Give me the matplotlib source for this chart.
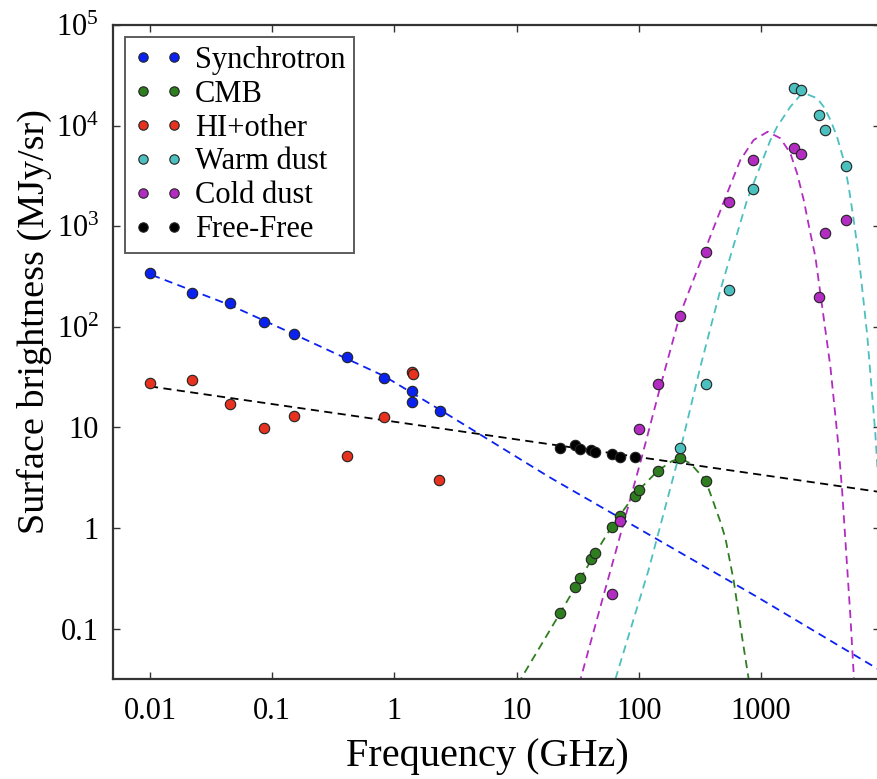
import numpy as np
import matplotlib
matplotlib.use("Agg")
import matplotlib.pyplot as plt
from matplotlib.ticker import FixedLocator, FixedFormatter, NullLocator

plt.rcParams['font.family'] = ['Liberation Serif', 'DejaVu Serif']
plt.rcParams['mathtext.fontset'] = 'custom'
plt.rcParams['mathtext.rm'] = 'Liberation Serif'
plt.rcParams['mathtext.it'] = 'Liberation Serif:italic'

# measured points (GHz, MJy/sr)
sync_f = [0.01, 0.022, 0.045, 0.085, 0.15, 0.41, 0.82, 1.4, 1.4, 2.37]
sync_s = [345, 218, 172, 111, 85, 50, 30.8, 23, 17.9, 14.7]

cmb_f = [22.8, 29.9, 32.9, 40.9, 44.1, 60.9, 69.8, 93.7, 100, 143, 216, 353]
cmb_s = [0.144, 0.26, 0.32, 0.49, 0.565, 1.02, 1.31, 2.1, 2.37, 3.7, 4.93, 2.93]

hi_f = [0.01, 0.022, 0.045, 0.085, 0.15, 0.41, 0.82, 1.4, 1.42, 2.32]
hi_s = [27.8, 29.4, 17.2, 9.8, 12.9, 5.2, 12.6, 35.8, 34.0, 3.0]

warm_f = [216, 353, 545, 856, 1875, 2143, 2986, 3320, 4970]
warm_s = [6.3, 26.8, 234, 2360, 23800, 22600, 12700, 9100, 3965]

cold_f = [60.9, 69.8, 100, 143, 216, 353, 545, 856, 1875, 2143, 2986, 3320, 4970]
cold_s = [0.22, 1.17, 9.7, 27.2, 128, 558, 1730, 4550, 5990, 5220, 199, 855, 1161]

ff_f = [22.8, 29.9, 32.9, 40.9, 44.1, 60.9, 69.8, 93.7]
ff_s = [6.2, 6.7, 6.1, 5.96, 5.7, 5.44, 5.1, 5.1]

# fitted curves
sync_fit_f = [0.0104, 0.0449, 0.150, 0.824, 2.38, 18.3, 929, 8970]
sync_fit_s = [327, 165, 84.7, 32.4, 14.9, 3.24, 0.207, 0.040]

ff_fit_f = [0.01, 9500]
ff_fit_s = [25.6, 2.28]

cmb_fit_f = [10.2, 22.8, 30.3, 44, 62.3, 96.9, 143, 185, 216, 264, 351, 398, 465, 512, 598, 700, 793, 810]
cmb_fit_s = [0.028, 0.144, 0.26, 0.56, 1.11, 2.3, 3.7, 4.6, 4.95, 4.4, 3.0, 1.97, 1.16, 0.79, 0.30, 0.083, 0.0316, 0.026]

cold_fit_f = [32.5, 48.5, 66.4, 106, 150, 219, 340, 528, 678, 871, 1135, 1442, 1740,
              1974, 2238, 2537, 2786, 3700, 4325, 4610, 5395, 5800]
cold_fit_s = [0.028, 0.165, 0.65, 5.1, 25.4, 136, 538, 2120, 4550, 7190, 8700, 7480, 5300,
              3360, 1820, 850, 498, 40, 6.2, 2.39, 0.131, 0.028]

warm_fit_f = [64.4, 120, 212, 319, 465, 770, 1195, 1356, 1740, 2100, 2383, 2880,
              3260, 3700, 4190, 4750, 5220, 5740, 6310, 7380, 8630, 8970]
warm_fit_s = [0.0316, 0.38, 5.1, 40, 232, 1820, 7190, 9750, 15400, 20100, 20500, 18700,
              15400, 11400, 7760, 4550, 2470, 1153, 498, 86, 8.7, 4.0]

xticks = [0.01, 0.1, 1, 10, 100, 1000]
xtick_labels = ['0.01', '0.1', '1', '10', '100', '1000']
yticks = [0.1, 1, 10, 100, 1000, 1e4, 1e5]
ytick_labels = ['0.1', '1', '10', r'$10^2$', r'$10^3$', r'$10^4$', r'$10^5$']

c_sync = '#0a22f0'
c_cmb = '#2e7d1e'
c_hi = '#e6321f'
c_warm = '#4cbfbf'
c_cold = '#b22cc2'
c_ff = 'black'

fig = plt.figure(figsize=(8.77, 7.79), dpi=100)
ax = fig.add_axes([113 / 877, 1 - 679 / 779, 767 / 877, 654 / 779])

dash = (4.5, 3)
lw = 1.3
ax.plot(sync_fit_f, sync_fit_s, color=c_sync, lw=lw, dashes=dash, zorder=2)
ax.plot(ff_fit_f, ff_fit_s, color=c_ff, lw=lw, dashes=dash, zorder=2)
ax.plot(cmb_fit_f, cmb_fit_s, color=c_cmb, lw=lw, dashes=dash, zorder=2)
ax.plot(cold_fit_f, cold_fit_s, color=c_cold, lw=lw, dashes=dash, zorder=2)
ax.plot(warm_fit_f, warm_fit_s, color=c_warm, lw=lw, dashes=dash, zorder=2)

mk = dict(linestyle='none', marker='o', ms=7.5, mec='#222222', mew=0.8, zorder=3)
ax.plot(sync_f, sync_s, color=c_sync, label='Synchrotron', **mk)
ax.plot(cmb_f, cmb_s, color=c_cmb, label='CMB', **mk)
ax.plot(hi_f, hi_s, color=c_hi, label='HI+other', **mk)
ax.plot(warm_f, warm_s, color=c_warm, label='Warm dust', **mk)
ax.plot(cold_f, cold_s, color=c_cold, label='Cold dust', **mk)
ax.plot(ff_f, ff_s, color=c_ff, label='Free-Free', **mk)

ax.set_xscale('log')
ax.set_yscale('log')
ax.set_xlim(0.00498, 9420)
ax.set_ylim(10 ** -1.5, 1e5)

ax.xaxis.set_major_locator(FixedLocator(xticks))
ax.xaxis.set_major_formatter(FixedFormatter(xtick_labels))
ax.xaxis.set_minor_locator(NullLocator())
ax.yaxis.set_major_locator(FixedLocator(yticks))
ax.yaxis.set_major_formatter(FixedFormatter(ytick_labels))
ax.yaxis.set_minor_locator(NullLocator())
ax.tick_params(which='major', direction='in', top=True, right=True, length=5,
               width=1, color='#333333', labelsize=22)
ax.tick_params(axis='x', pad=13)
ax.tick_params(axis='y', pad=10)

for sp in ax.spines.values():
    sp.set_linewidth(1.6)
    sp.set_color('#333333')

ax.set_xlabel('Frequency (GHz)', fontsize=29)
ax.set_ylabel('Surface brightness (MJy/sr)', fontsize=27.5)
ax.xaxis.set_label_coords((487 - 113) / 767, -(738 - 679) / 654)
ax.yaxis.set_label_coords((52 - 113) / 767, (679 - 322) / 654)

leg = ax.legend(loc='upper left', numpoints=2, fontsize=22, fancybox=False,
                frameon=True, borderpad=0.28, labelspacing=0.16,
                handlelength=1.6, handletextpad=0.4, borderaxespad=0.4,
                markerscale=0.9)
leg.get_frame().set_edgecolor('#333333')
leg.get_frame().set_linewidth(1.4)

fig.savefig('out.png', dpi=100)
